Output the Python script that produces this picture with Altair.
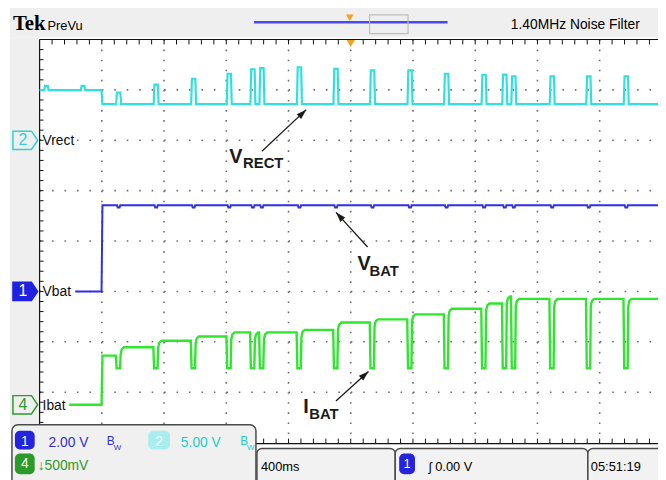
import math
import altair as alt
import pandas as pd
import numpy as np

# ---------------- data ----------------
record_ms = 3975          # visible record length (10 div x 400 ms, right edge cropped)
step_ms = 400             # charging starts
trigger_ms = 2000

pulse_ms = [508, 749, 990, 1219, 1371, 1429, 1670, 1905, 2140, 2381,
            2616, 2857, 2990, 3048, 3295, 3530, 3771]
vrect_peak_v = [4.74, 5.52, 6.11, 6.60, 7.03, 7.16, 7.25, 7.09, 6.93, 6.93,
                6.60, 6.50, 6.52, 6.34, 6.34, 6.34, 6.34]
vrect_idle_v = 4.97
vrect_bump_ms = [44, 279]
vrect_bump_v = 5.40
vrect_low_v = 3.58

vbat_start_ms = 229
vbat_level_v = 3.42
vbat_dip_v = 3.33

ibat_start_ms = 190
ibat_first_mv = 488
ibat_after_mv = [571, 635, 678, 718, 718, 718, 743, 816, 848, 897,
                 953, 1005, 1076, 1051, 1051, 1051, 1051]
ibat_dip_mv = 362

channels = ["Vrect", "Vbat", "Ibat"]
ch_number = ["2", "1", "4"]
ch_offset_div = [2.0, -1.0, -3.25]
ch_per_div = [5.0, 2.0, 500.0]
ch_color = ["#2fe0e0", "#2f2fe6", "#2ee62e"]

ann_main = ["V", "V", "I"]
ann_sub = ["RECT", "BAT", "BAT"]
ann_main_ms = [1219, 2044, 1695]
ann_main_div = [1.549, -0.569, -3.412]
ann_sub_ms = [1308, 2121, 1733]
ann_sub_div = [1.451, -0.686, -3.529]
arrow_tail_ms = [1429, 2108, 1905]
arrow_tail_div = [1.784, -0.118, -3.176]
arrow_tip_ms = [1714, 1905, 2114]
arrow_tip_div = [2.608, 0.569, -2.588]

# ---------------- geometry ----------------
OX, OY = 40, 37           # screen position of the graticule's top-left corner
W, H = 626, 408
UI = "'Liberation Sans', Arial, sans-serif"
BOLD = "'Liberation Sans', Arial, sans-serif"

xs = alt.Scale(domain=[0, record_ms], nice=False, zero=False)
ys = alt.Scale(domain=[-4, 4], nice=False, zero=False)
X = lambda f: alt.X(f, scale=xs, axis=None)
Y = lambda f: alt.Y(f, scale=ys, axis=None)
dummy = pd.DataFrame({"d": [0]})


def T(s, x, y, color="#000000", size=13, font=UI, weight="normal", align="left", baseline="alphabetic"):
    return alt.Chart(dummy).mark_text(align=align, baseline=baseline, font=font, fontSize=size,
                                      fontWeight=weight, color=color).encode(
        x=alt.value(x - OX), y=alt.value(y - OY), text=alt.value(s))


def R(x1, y1, x2, y2, fill="#ffffff", stroke=None, radius=0, sw=1.0, fill_op=1.0):
    kw = dict(fill=fill, cornerRadius=radius, fillOpacity=fill_op)
    if stroke:
        kw.update(stroke=stroke, strokeWidth=sw)
    return alt.Chart(dummy).mark_rect(**kw).encode(
        x=alt.value(x1 - OX), x2=alt.value(x2 - OX), y=alt.value(y1 - OY), y2=alt.value(y2 - OY))


def L(x1, y1, x2, y2, color, w=1.0):
    return alt.Chart(dummy).mark_rule(color=color, strokeWidth=w).encode(
        x=alt.value(x1 - OX), x2=alt.value(x2 - OX), y=alt.value(y1 - OY), y2=alt.value(y2 - OY))


# ---------------- traces ----------------
def to_div(ch, v):
    k = channels.index(ch)
    return ch_offset_div[k] + v / ch_per_div[k]


vr = [(0, vrect_idle_v)]
for b in vrect_bump_ms:
    vr += [(b - 14, vrect_idle_v), (b - 9, vrect_bump_v), (b + 9, vrect_bump_v), (b + 14, vrect_idle_v)]
vr += [(step_ms - 2, vrect_idle_v), (step_ms + 4, vrect_low_v)]
for p, pk in zip(pulse_ms, vrect_peak_v):
    vr += [(p - 16, vrect_low_v), (p - 11, pk), (p + 11, pk), (p + 16, vrect_low_v)]
vr += [(record_ms, vrect_low_v)]

vb = [(vbat_start_ms, 0.0), (step_ms - 2, 0.0), (step_ms + 4, vbat_level_v)]
for p in pulse_ms:
    vb += [(p - 10, vbat_level_v), (p - 6, vbat_dip_v), (p + 6, vbat_dip_v), (p + 10, vbat_level_v)]
vb += [(record_ms, vbat_level_v)]

ib = [(ibat_start_ms, 0.0), (step_ms - 2, 0.0), (step_ms + 4, ibat_first_mv)]
prev = ibat_first_mv
for p, lv in zip(pulse_ms, ibat_after_mv):
    ib += [(p - 18, prev), (p - 13, ibat_dip_mv), (p + 9, ibat_dip_mv), (p + 13, lv - 70),
           (p + 20, lv - 20), (p + 34, lv)]
    prev = lv
ib += [(record_ms, prev)]

rows = []
for ch, pts in (("Vrect", vr), ("Vbat", vb), ("Ibat", ib)):
    for i, (t, v) in enumerate(pts):
        rows.append({"ch": ch, "i": i, "t": t, "val": v, "div": to_div(ch, v)})
traces = pd.DataFrame(rows)


def trace(ch, w):
    k = channels.index(ch)
    return alt.Chart(traces[traces.ch == ch]).mark_line(color=ch_color[k], strokeWidth=w, interpolate="linear").encode(
        x=X("t:Q"), y=Y("div:Q"), order=alt.Order("i:Q"))


# ---------------- graticule ----------------
grid_v = alt.Chart(pd.DataFrame({"t": [400 * k for k in range(1, 10)]})).mark_rule(
    color="#6e6e6e", strokeWidth=1.6, strokeDash=[1.6, 8.6]).encode(
    x=X("t:Q"), y=alt.value(0), y2=alt.value(H))
grid_h = alt.Chart(pd.DataFrame({"v": [-3, -2, -1, 0, 1, 2, 3]})).mark_rule(
    color="#6e6e6e", strokeWidth=1.6, strokeDash=[1.6, 11.0]).encode(
    y=Y("v:Q"), x=alt.value(0), x2=alt.value(W))

tick_t = pd.DataFrame({"t": np.arange(80, record_ms, 80)})
ticks_top = alt.Chart(tick_t).mark_rule(color="#111", strokeWidth=1).encode(
    x=X("t:Q"), y=alt.value(0), y2=alt.value(5))
ticks_bot = alt.Chart(tick_t).mark_rule(color="#111", strokeWidth=1).encode(
    x=X("t:Q"), y=alt.value(H - 4), y2=alt.value(H + 1))
ticks_left = alt.Chart(pd.DataFrame({"v": np.round(np.arange(-3.8, 4.0, 0.2), 2)})).mark_rule(
    color="#111", strokeWidth=1).encode(y=Y("v:Q"), x=alt.value(0), x2=alt.value(4))

trig = alt.Chart(pd.DataFrame({"t": [trigger_ms]})).mark_point(
    shape="triangle-down", filled=True, size=70, color="#f2a21c", opacity=1).encode(
    x=X("t:Q"), y=alt.value(4))

# ---------------- channel markers ----------------
mk = pd.DataFrame({
    "ch": channels, "num": ch_number, "div": ch_offset_div,
    "fill": ["#efefef", "#2020e0", "#efefef"],
    "stroke": ["#2fd2d2", "#2020e0", "#2e9a2e"],
    "tcol": ["#2fd2d2", "#ffffff", "#2e9a2e"],
})
PENT = "M-1,-0.74 L0.5,-0.74 L1,0 L0.5,0.74 L-1,0.74 Z"
markers = alt.Chart(mk).mark_point(shape=PENT, size=625, filled=True, strokeWidth=1.5, opacity=1).encode(
    x=alt.value(25.5 - OX), y=Y("div:Q"),
    fill=alt.Fill("fill:N", scale=None), stroke=alt.Stroke("stroke:N", scale=None))
marker_num = alt.Chart(mk).mark_text(font=UI, fontSize=16, baseline="middle", align="center").encode(
    x=alt.value(23 - OX), y=Y("div:Q"), text="num:N", color=alt.Color("tcol:N", scale=None))
marker_lbl = alt.Chart(mk).mark_text(font=UI, fontSize=14, baseline="middle", align="left", color="#111", dy=1).encode(
    x=alt.value(43 - OX), y=Y("div:Q"), text="ch:N")

# ---------------- annotations ----------------
pxms = W / record_ms
ann = pd.DataFrame({
    "main": ann_main, "sub": ann_sub,
    "mt": ann_main_ms, "mv": ann_main_div, "st": ann_sub_ms, "sv": ann_sub_div,
    "t1": arrow_tail_ms, "v1": arrow_tail_div, "t2": arrow_tip_ms, "v2": arrow_tip_div,
})
ann["ang"] = [math.degrees(math.atan2((b - a) * pxms, (d - c) * 51.0)) % 360
              for a, b, c, d in zip(ann.t1, ann.t2, ann.v1, ann.v2)]
arrow_line = alt.Chart(ann).mark_rule(color="#1a1a1a", strokeWidth=1.3).encode(
    x=X("t1:Q"), y=Y("v1:Q"), x2="t2:Q", y2="v2:Q")
HEAD = "M0,0 L-0.55,1.7 L0.55,1.7 Z"
arrow_head = alt.Chart(ann).mark_point(shape=HEAD, size=144, filled=True, color="#1a1a1a", opacity=1).encode(
    x=X("t2:Q"), y=Y("v2:Q"), angle=alt.Angle("ang:Q", scale=None))
ann_main_t = alt.Chart(ann).mark_text(font=BOLD, fontWeight="bold", fontSize=20, align="left",
                                      baseline="alphabetic", color="#1a1a1a").encode(
    x=X("mt:Q"), y=Y("mv:Q"), text="main:N")
ann_sub_t = alt.Chart(ann).mark_text(font=BOLD, fontWeight="bold", fontSize=15, align="left",
                                     baseline="alphabetic", color="#1a1a1a").encode(
    x=X("st:Q"), y=Y("sv:Q"), text="sub:N")

# ---------------- chrome ----------------
GRAY = "#efefef"
chrome_back = [
    R(10, 0, 666, 35, GRAY),
    R(10, 35, 40, 430, GRAY),
]
frame = [
    L(40, 37, 666, 37, "#111", 1.2),
    L(40, 37, 40, 446, "#111", 1.2),
    L(40, 446, 666, 446, "#111", 1.2),
]
header = [
    T("Tek", 13, 27, size=21, font="'Liberation Serif', serif", weight="bold"),
    T("PreVu", 48, 27, size=13),
    L(257, 19.5, 453, 19.5, "#4a4ae6", 2.5),
    R(374, 12, 413, 31, "#ffffff", stroke="#bdbdbd", sw=1.2, fill_op=0),
    alt.Chart(dummy).mark_point(shape="triangle-down", filled=True, size=60, color="#f2a21c", opacity=1).encode(
        x=alt.value(354 - OX), y=alt.value(15 - OY)),
    T("1.40MHz  Noise Filter", 517, 26, size=14),
]
bottom = [
    R(12, 427, 259, 495, "#f0f0f0", stroke="#4a4a4a", radius=6, sw=1.5),
    R(15, 433, 35, 452, "#2424dc", radius=5),
    T("1", 25, 448, color="#ffffff", size=14, align="center"),
    T("2.00 V", 49, 449, color="#2f2fd0", size=14),
    T("B", 108, 447, color="#2f2fd0", size=12),
    T("W", 115, 453, color="#2f2fd0", size=8),
    R(150, 433, 172, 452, "#a8eeee", radius=5),
    T("2", 161, 448, color="#ffffff", size=14, align="center"),
    T("5.00 V", 183, 449, color="#22cccc", size=14),
    T("B", 243, 447, color="#22cccc", size=12),
    T("W", 250, 453, color="#22cccc", size=8),
    R(15, 456, 35, 477, "#2a9a2a", radius=5),
    T("4", 25, 471, color="#ffffff", size=14, align="center"),
    T("\u2193500mV", 38, 473, color="#2a9a2a", size=14),
    R(260, 451, 400, 495, "#f2f2f2", stroke="#4a4a4a", radius=5, sw=1.5),
    T("400ms", 264, 474, size=13),
    R(400, 451, 595, 495, "#f2f2f2", stroke="#4a4a4a", radius=5, sw=1.5),
    R(404, 456, 420, 477, "#2424dc", radius=5),
    T("1", 412, 471, color="#ffffff", size=13, align="center"),
    T("\u0283 0.00 V", 434, 474, size=13),
    R(595, 451, 700, 495, "#f2f2f2", stroke="#4a4a4a", radius=5, sw=1.5),
    T("05:51:19", 598, 474, size=13),
]

layers = (chrome_back + [grid_v, grid_h, ticks_top, ticks_bot, ticks_left] + frame
          + [trace("Ibat", 2.4), trace("Vbat", 2.0), trace("Vrect", 2.2), trig,
             markers, marker_num, marker_lbl,
             arrow_line, arrow_head, ann_main_t, ann_sub_t]
          + header + bottom)

chart = alt.layer(*layers).properties(
    width=W, height=H,
    padding={"left": OX - 8, "top": OY - 8, "right": 0, "bottom": 480 - OY - H},
    autosize=alt.AutoSizeParams(type="none"),
    background="#ffffff",
).configure_view(stroke=None)

chart.save("out.html", embed_options={"renderer": "svg", "actions": False})
